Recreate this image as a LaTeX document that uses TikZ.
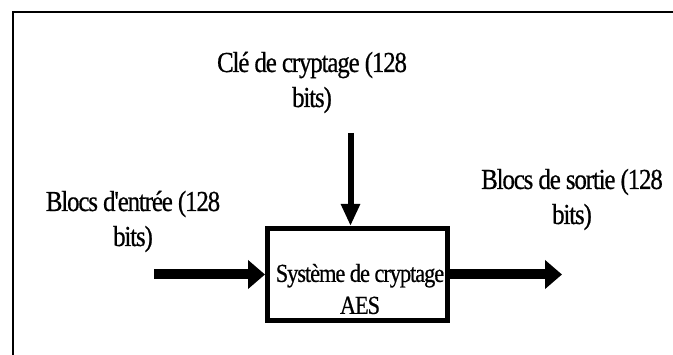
\documentclass[tikz,border=0pt]{standalone}
\usepackage{fontspec}
\setmainfont{Liberation Serif}
\newfontfamily\labelfont[FakeStretch=0.86,LetterSpace=-4,FakeBold=0.6]{Liberation Serif}
\usetikzlibrary{arrows.meta}
\begin{document}
\begin{tikzpicture}[x=1pt,y=1pt,
  lbl/.style={align=center,inner sep=0pt,
    font=\labelfont\fontsize{29}{35}\selectfont},
  boxtxt/.style={align=center,inner sep=0pt,
    font=\labelfont\fontsize{26}{32}\selectfont},
  flow/.style={line width=10pt,-{Triangle[length=17pt,width=28pt]}},
  keyflow/.style={line width=6pt,-{Triangle[length=22pt,width=18pt]}},
  aesbox/.style={draw,line width=5pt,minimum width=180pt,minimum height=92pt,inner sep=0pt}
]
\useasboundingbox (0,0) rectangle (673,354);
% open frame: left and top edges only
\draw[line width=1.5pt] (13,-5) -- (13,342) -- (680,342);

% encryption block
\node[aesbox] (box) at (357.5,79.5) {};
\node[boxtxt] (boxtext) at (360,65) {Système de cryptage\\AES};

% labels
\node[lbl] (keylbl) at (312,271.5) {Clé de cryptage (128\\bits)};
\node[lbl] (inlbl) at (133,132.5) {Blocs d'entrée (128\\bits)};
\node[lbl] (outlbl) at (572,154.5) {Blocs de sortie (128\\bits)};

% connectors
\coordinate (instart) at (154,79.5);
\coordinate (outend) at (562,79.5);
\coordinate (keystart) at (350.5,221);
\draw[flow] (instart) -- (box.west);
\draw[flow] (box.east) -- (outend);
\draw[keyflow] (keystart) -- (box.north -| keystart);
\end{tikzpicture}
\end{document}
